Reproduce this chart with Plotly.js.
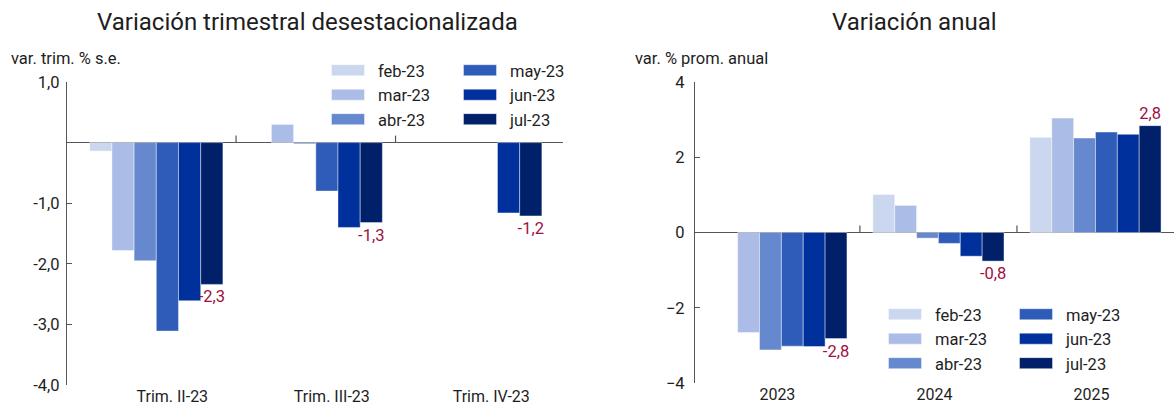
<!DOCTYPE html>
<html>
<head>
<meta charset="utf-8">
<script src="https://cdn.plot.ly/plotly-3.0.1.min.js"></script>
<style>html,body{margin:0;padding:0;background:#fff;}#chart{width:1174px;height:405px;}</style>
</head>
<body>
<div id="chart"></div>
<script>
// ---- data ----
var series = ['feb-23', 'mar-23', 'abr-23', 'may-23', 'jun-23', 'jul-23'];
var quarters = ['Trim. II-23', 'Trim. III-23', 'Trim. IV-23'];
var years = ['2023', '2024', '2025'];

// quarterly s.a. variation (%), one array per forecast vintage
var qFeb = [-0.14, null, null];
var qMar = [-1.78, 0.30, null];
var qAbr = [-1.95, -0.02, null];
var qMay = [-3.11, -0.80, null];
var qJun = [-2.61, -1.40, -1.16];
var qJul = [-2.34, -1.32, -1.21];

// annual average variation (%)
var aFeb = [null, 1.01, 2.53];
var aMar = [-2.66, 0.72, 3.04];
var aAbr = [-3.12, -0.15, 2.51];
var aMay = [-3.02, -0.29, 2.67];
var aJun = [-3.03, -0.63, 2.61];
var aJul = [-2.82, -0.76, 2.84];

var leftTickVals = [1, -1, -2, -3, -4];
var leftTickText = ['1,0', '-1,0', '-2,0', '-3,0', '-4,0'];
var rightTickVals = [4, 2, 0, -2, -4];

// ---- styles ----
var colors = ['#cbd7ef', '#abbde6', '#6688cf', '#2f5cb9', '#00309c', '#002169'];
var labelColor = '#9e1043';
var FONT = 'Roboto, "Noto Sans", sans-serif';
var textDark = '#1e1e1e';

var qData = [qFeb, qMar, qAbr, qMay, qJun, qJul];
var aData = [aFeb, aMar, aAbr, aMay, aJun, aJul];

function fmt(v) { return v == null ? '' : v.toFixed(1).replace('.', ','); }

var traces = [];
series.forEach(function (name, i) {
  var isLast = i === series.length - 1;
  traces.push({
    type: 'bar', name: name, x: quarters, y: qData[i],
    xaxis: 'x', yaxis: 'y',
    marker: {color: colors[i], line: {color: 'rgba(255,255,255,0.7)', width: 0.6}},
    legend: i < 3 ? 'legend' : 'legend2',
    text: isLast ? qData[i].map(fmt) : null,
    textposition: isLast ? 'outside' : 'none',
    constraintext: 'none',
    textfont: {color: labelColor, size: 16.5, family: FONT},
    cliponaxis: false,
    hoverinfo: 'y+name'
  });
});
series.forEach(function (name, i) {
  var isLast = i === series.length - 1;
  traces.push({
    type: 'bar', name: name, x: years, y: aData[i],
    xaxis: 'x2', yaxis: 'y2',
    marker: {color: colors[i], line: {color: 'rgba(255,255,255,0.7)', width: 0.6}},
    legend: i < 3 ? 'legend3' : 'legend4',
    text: isLast ? aData[i].map(fmt) : null,
    textposition: isLast ? 'outside' : 'none',
    constraintext: 'none',
    textfont: {color: labelColor, size: 16.5, family: FONT},
    cliponaxis: false,
    hoverinfo: 'y+name'
  });
});

// category separator ticks on the zero line (between categories)
var shapes = [];
function separators(cats, xref, yref) {
  for (var k = 1; k < cats.length; k++) {
    shapes.push({
      type: 'line', xref: xref, yref: yref, ysizemode: 'pixel', yanchor: 0,
      x0: k - 0.5, x1: k - 0.5, y0: 0, y1: 7,
      line: {color: '#555', width: 1.2}
    });
  }
}
separators(quarters, 'x', 'y');
separators(years, 'x2', 'y2');

var W = 1174, H = 405;
function px(x) { return x / W; }
function py(y) { return 1 - y / H; }

var legendBase = {
  bgcolor: 'rgba(0,0,0,0)', borderwidth: 0, orientation: 'v',
  xanchor: 'left', yanchor: 'top', itemwidth: 50,
  font: {family: FONT, size: 16.5, color: textDark},
  itemclick: false, itemdoubleclick: false, traceorder: 'normal'
};
function mkLegend(x, y) {
  var o = {}; for (var k in legendBase) o[k] = legendBase[k];
  o.x = x; o.y = y; return o;
}

var axisFont = {family: FONT, size: 16.5, color: textDark};
var catFont = {family: FONT, size: 16, color: textDark};

var layout = {
  width: W, height: H,
  margin: {l: 0, r: 0, t: 0, b: 0},
  paper_bgcolor: '#fff', plot_bgcolor: '#fff',
  separators: ',.',
  barmode: 'group', bargap: 0.165, bargroupgap: 0,
  font: {family: FONT, color: textDark},
  showlegend: true,
  xaxis: {
    domain: [px(67), px(563)], anchor: 'y', type: 'category',
    range: [-0.56, 2.55], showline: false, showgrid: false, zeroline: false,
    ticks: '', tickfont: catFont, ticklabelshift: 16, ticklabelstandoff: 0, fixedrange: true
  },
  yaxis: {
    domain: [py(385), py(82)], anchor: 'x', range: [-4, 1],
    tickvals: leftTickVals, ticktext: leftTickText,
    ticks: 'inside', ticklen: 5, tickcolor: '#555', tickwidth: 1.2,
    showline: true, linecolor: '#555', linewidth: 1.2,
    showgrid: false, zeroline: true, zerolinecolor: '#555', zerolinewidth: 1.4,
    tickfont: axisFont, ticklabelstandoff: 3, fixedrange: true
  },
  xaxis2: {
    domain: [px(695), 1], anchor: 'y2', type: 'category',
    range: [-0.55, 2.5], showline: false, showgrid: false, zeroline: false,
    ticks: '', tickfont: catFont, ticklabelshift: -4, ticklabelstandoff: 0, fixedrange: true
  },
  yaxis2: {
    domain: [py(383), py(82)], anchor: 'x2', range: [-4, 4],
    tickvals: rightTickVals,
    ticks: 'inside', ticklen: 5, tickcolor: '#555', tickwidth: 1.2,
    showline: true, linecolor: '#555', linewidth: 1.2,
    showgrid: false, zeroline: true, zerolinecolor: '#555', zerolinewidth: 1.4,
    tickfont: axisFont, ticklabelstandoff: 6, fixedrange: true
  },
  legend: mkLegend(px(318), py(53)),
  legend2: mkLegend(px(450), py(53)),
  legend3: mkLegend(px(875), py(297)),
  legend4: mkLegend(px(1006), py(297)),
  shapes: shapes,
  annotations: [
    {text: 'Variación trimestral desestacionalizada', xref: 'paper', yref: 'paper',
     x: px(307), y: py(22), xanchor: 'center', yanchor: 'middle', showarrow: false,
     font: {family: FONT, size: 24, color: textDark}},
    {text: 'Variación anual', xref: 'paper', yref: 'paper',
     x: px(914), y: py(22), xanchor: 'center', yanchor: 'middle', showarrow: false,
     font: {family: FONT, size: 24, color: textDark}},
    {text: 'var. trim. % s.e.', xref: 'paper', yref: 'paper',
     x: px(9), y: py(58), xanchor: 'left', yanchor: 'middle', showarrow: false,
     font: {family: FONT, size: 16.5, color: textDark}},
    {text: 'var. % prom. anual', xref: 'paper', yref: 'paper',
     x: px(633), y: py(58), xanchor: 'left', yanchor: 'middle', showarrow: false,
     font: {family: FONT, size: 16.5, color: textDark}}
  ]
};

var gdEl = document.getElementById('chart');
function fixSwatches() {
  // widen legend swatches to match the reference's rectangular keys
  var paths = gdEl.querySelectorAll('g.legendpoints path');
  paths.forEach(function (p) { p.setAttribute('d', 'M16.5,5.5H-16.5V-5.5H16.5Z'); });
}
Plotly.newPlot(gdEl, traces, layout, {displayModeBar: false}).then(function (gd) {
  fixSwatches();
  gd.on('plotly_afterplot', fixSwatches);
  setTimeout(fixSwatches, 30);
  setTimeout(fixSwatches, 300);
});
</script>
</body>
</html>
